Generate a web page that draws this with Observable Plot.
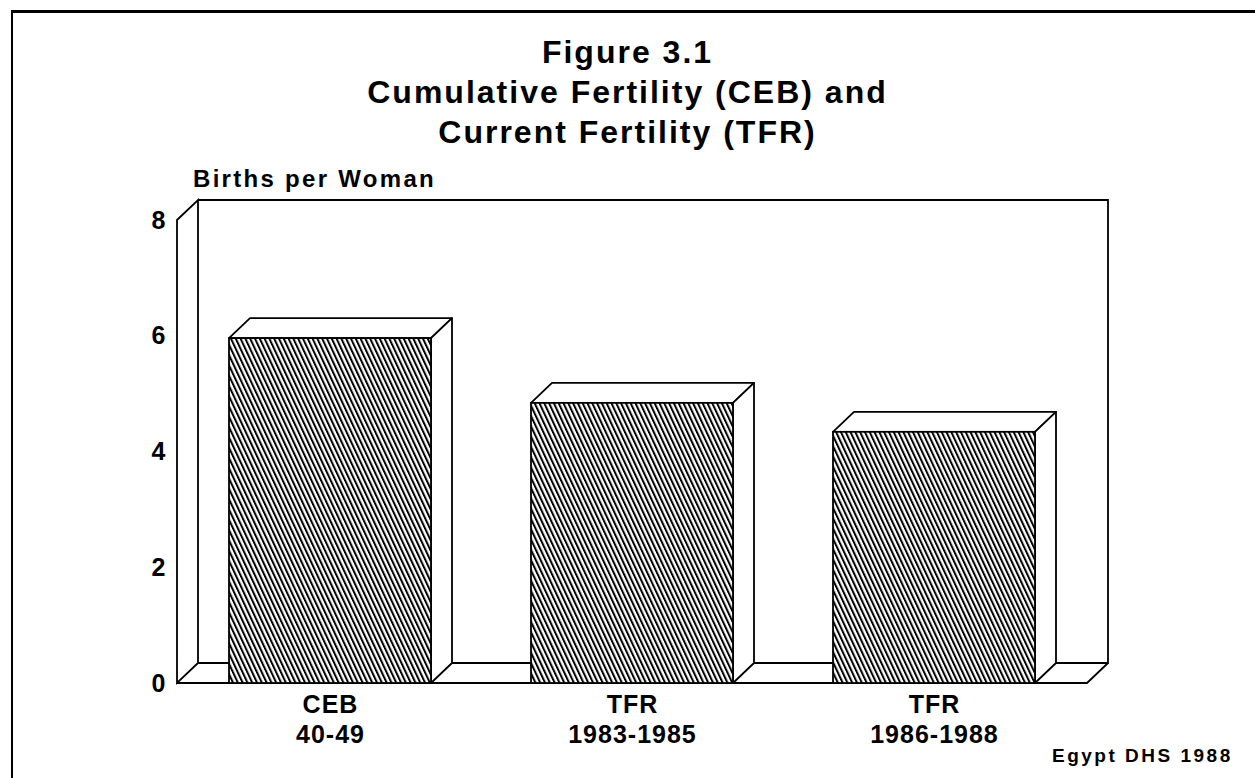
<!DOCTYPE html>
<html>
<head>
<meta charset="utf-8">
<script src="https://cdn.jsdelivr.net/npm/d3@7"></script>
<script src="https://cdn.jsdelivr.net/npm/@observablehq/plot@0.6"></script>
<style>
  body { margin: 0; background: #fff; }
  #wrap { position: relative; width: 1255px; height: 778px; overflow: hidden; font-family: "Liberation Sans", Arial, sans-serif; color: #000; }
  #border { position: absolute; left: 11px; top: 10px; width: 1400px; height: 900px; border-top: 3px solid #000; border-left: 2px solid #000; }
  #chart { position: absolute; left: 0; top: 0; }
  #title { position: absolute; left: 0; top: 32px; width: 1255px; text-align: center; font-size: 32px; font-weight: bold; letter-spacing: 2px; line-height: 40px; }
  #ylab { position: absolute; left: 193px; top: 167px; font-size: 24px; font-weight: bold; letter-spacing: 2.3px; line-height: 23px; white-space: nowrap; }
  #credit { position: absolute; left: 1052px; top: 746px; font-size: 19px; font-weight: bold; letter-spacing: 2.5px; line-height: 19px; white-space: nowrap; }
</style>
</head>
<body>
<div id="wrap">
  <div id="border"></div>
  <div id="chart"></div>
  <div id="title">Figure 3.1<br>Cumulative Fertility (CEB) and<br>Current Fertility (TFR)</div>
  <div id="ylab">Births per Woman</div>
  <div id="credit">Egypt DHS 1988</div>
</div>
<script>
// ---- data ----
const categories = ["CEB 40-49", "TFR 1983-1985", "TFR 1986-1988"];
const labelTop = ["CEB", "TFR", "TFR"];
const labelBottom = ["40-49", "1983-1985", "1986-1988"];
const values = [5.96, 4.84, 4.34];
const yTicks = [0, 2, 4, 6, 8];

const data = categories.map((c, i) => ({cat: c, value: values[i], l1: labelTop[i], l2: labelBottom[i]}));

// depth of the pseudo-3D offset (pixels)
const DX = 21, DY = -20;
const SW = 1.8;

// walls & floor, drawn through the plot scales
const wallMark = (index, scales, values_, dims) => {
  const {y} = scales;
  const L = dims.marginLeft, R = dims.width - dims.marginRight;
  const b = y(0), t = y(yTicks[yTicks.length - 1]);
  const g = d3.create("svg:g");
  const defs = g.append("defs");
  const pat = defs.append("pattern")
    .attr("id", "hatch")
    .attr("patternUnits", "userSpaceOnUse")
    .attr("width", 4.35).attr("height", 20)
    .attr("patternTransform", "rotate(-25)");
  pat.append("rect").attr("width", 4.35).attr("height", 20).attr("fill", "#fff");
  pat.append("rect").attr("width", 2).attr("height", 20).attr("fill", "#000");
  const p = d3.path();
  // side wall
  p.moveTo(L, b); p.lineTo(L, t); p.lineTo(L + DX, t + DY); p.lineTo(L + DX, b + DY); p.closePath();
  // back wall
  p.moveTo(L + DX, t + DY); p.lineTo(R + DX, t + DY); p.lineTo(R + DX, b + DY); p.lineTo(L + DX, b + DY);
  // floor
  p.moveTo(L, b); p.lineTo(R, b); p.lineTo(R + DX, b + DY);
  g.append("path").attr("d", p.toString()).attr("fill", "none").attr("stroke", "#000").attr("stroke-width", SW);
  return g.node();
};

// top & side faces of each bar
const boxMark = (index, scales) => {
  const {x, y} = scales;
  const bw = x.bandwidth();
  const g = d3.create("svg:g").attr("fill", "#fff").attr("stroke", "#000").attr("stroke-width", SW).attr("stroke-linejoin", "round");
  for (const d of data) {
    const x1 = x(d.cat), x2 = x1 + bw, yt = y(d.value), yb = y(0);
    g.append("path").attr("d", `M${x1},${yt}L${x1 + DX},${yt + DY}L${x2 + DX},${yt + DY}L${x2},${yt}Z`);
    g.append("path").attr("d", `M${x2},${yt}L${x2 + DX},${yt + DY}L${x2 + DX},${yb + DY}L${x2},${yb}Z`);
  }
  return g.node();
};

const chart = Plot.plot({
  width: 1255,
  height: 778,
  marginLeft: 177,
  marginRight: 168,
  marginTop: 220,
  marginBottom: 95,
  style: {fontFamily: "'Liberation Sans', Arial, sans-serif", fontSize: "25px", fontWeight: "bold", background: "transparent", overflow: "visible"},
  x: {domain: categories, paddingInner: 0.33, paddingOuter: 0.167, axis: null},
  y: {domain: [0, 8], axis: null},
  marks: [
    wallMark,
    boxMark,
    Plot.barY(data, {x: "cat", y: "value", fill: "url(#hatch)", stroke: "#000", strokeWidth: SW}),
    Plot.text(yTicks, {y: d => d, text: d => String(d), frameAnchor: "left", textAnchor: "end", dx: -11, fill: "#000", fontSize: 25, fontWeight: "bold"}),
    Plot.text(data, {x: "cat", text: "l1", frameAnchor: "bottom", dy: 29, fill: "#000", fontSize: 25, fontWeight: "bold"}),
    Plot.text(data, {x: "cat", text: "l2", frameAnchor: "bottom", dy: 59, fill: "#000", fontSize: 25, fontWeight: "bold"})
  ]
});
d3.select(chart).selectAll("text").style("letter-spacing", "1px");
document.getElementById("chart").appendChild(chart);
</script>
</body>
</html>
